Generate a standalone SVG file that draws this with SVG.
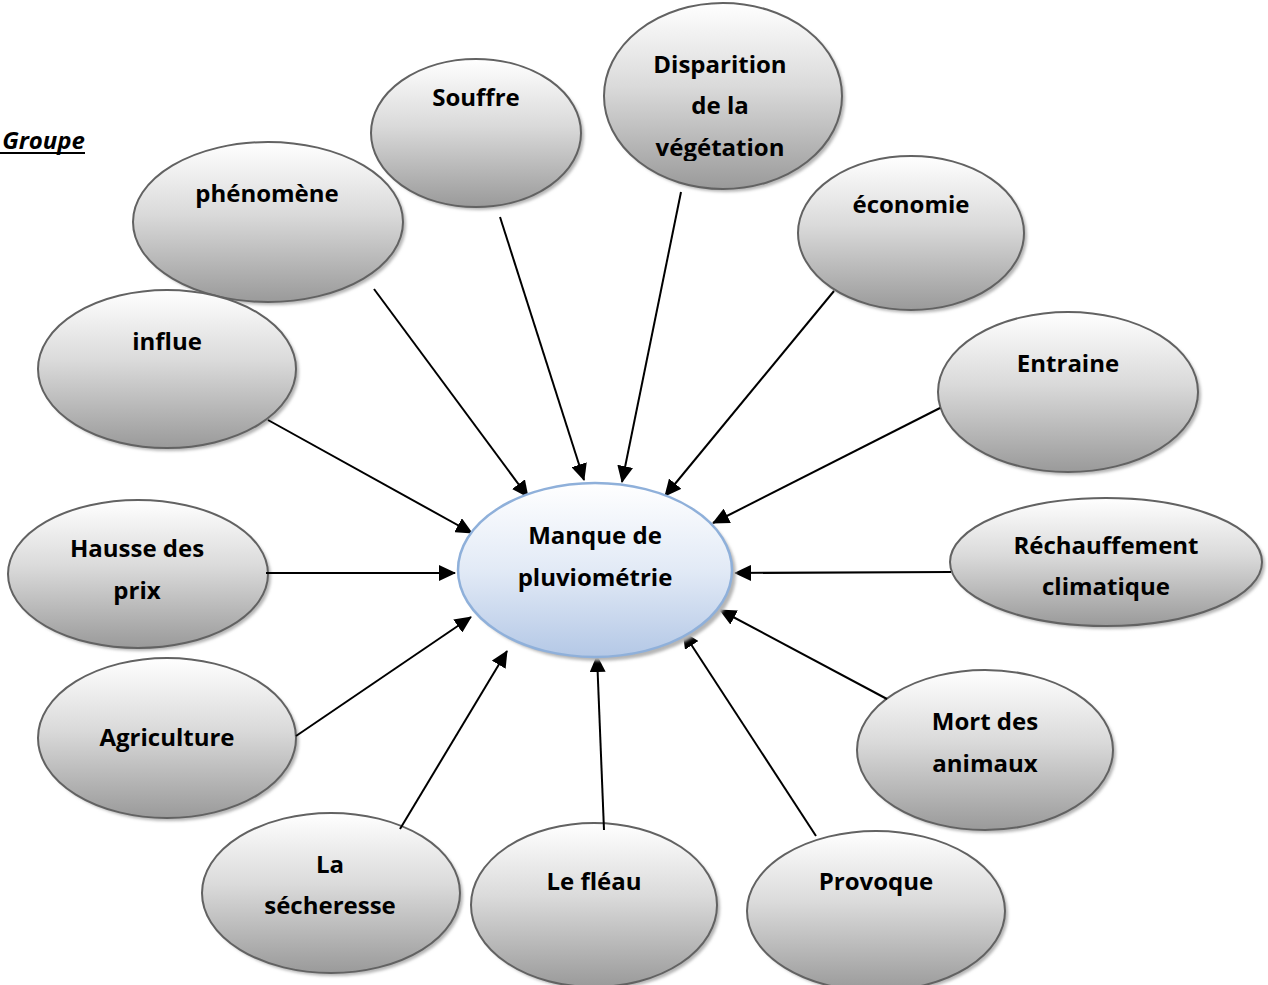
<svg xmlns="http://www.w3.org/2000/svg" width="1268" height="985" viewBox="0 0 1268 985">
<defs>
<linearGradient id="gray" x1="0" y1="0" x2="0" y2="1">
<stop offset="0" stop-color="#ffffff"/>
<stop offset="0.45" stop-color="#dadada"/>
<stop offset="1" stop-color="#9a9a9a"/>
</linearGradient>
<linearGradient id="blue" x1="0" y1="0" x2="0" y2="1">
<stop offset="0" stop-color="#ffffff"/>
<stop offset="0.5" stop-color="#e2eaf6"/>
<stop offset="1" stop-color="#b4c8e6"/>
</linearGradient>
<filter id="blur" x="-10%" y="-10%" width="120%" height="120%">
<feGaussianBlur stdDeviation="1.5"/>
</filter>
<marker id="arr" markerUnits="userSpaceOnUse" markerWidth="18" markerHeight="16" refX="16" refY="8" orient="auto">
<path d="M0,0 L17,8 L0,16 Z" fill="#000"/>
</marker>
<clipPath id="clipDisp"><rect x="600" y="0" width="250" height="161"/></clipPath>
</defs>
<style>
.sh{fill:#b5b5b5;filter:url(#blur);}
.nd{fill:url(#gray);stroke:#626262;stroke-width:2;}
.ctr{fill:url(#blue);stroke:#8fb0da;stroke-width:2.5;}
.t{font-family:"Open Sans","Liberation Sans",sans-serif;font-weight:bold;font-size:24px;fill:#000;text-anchor:middle;}
.c line{stroke:#000;stroke-width:2;marker-end:url(#arr);}
</style>
<rect width="1268" height="985" fill="#fff"/>

<text x="85" y="149" font-family="'Open Sans','Liberation Sans',sans-serif" font-weight="bold" font-style="italic" font-size="24" text-anchor="end" fill="#000">Groupe</text>
<rect x="0" y="152" width="85" height="2" fill="#000"/>

<g id="n-souffre"><ellipse class="sh" cx="479" cy="136" rx="105" ry="74"/><ellipse class="nd" cx="476" cy="133" rx="105" ry="74"/><text class="t" x="476" y="106">Souffre</text></g>
<g id="n-disparition"><ellipse class="sh" cx="726" cy="99" rx="119" ry="93"/><ellipse class="nd" cx="723" cy="96" rx="119" ry="93"/><g clip-path="url(#clipDisp)"><text class="t" x="720" y="73">Disparition</text><text class="t" x="720" y="114">de la</text><text class="t" x="720" y="156">végétation</text></g></g>
<g id="n-phenomene"><ellipse class="sh" cx="271" cy="225" rx="135" ry="80"/><ellipse class="nd" cx="268" cy="222" rx="135" ry="80"/><text class="t" x="267" y="202">phénomène</text></g>
<g id="n-economie"><ellipse class="sh" cx="914" cy="236" rx="113" ry="77"/><ellipse class="nd" cx="911" cy="233" rx="113" ry="77"/><text class="t" x="911" y="213">économie</text></g>
<g id="n-influe"><ellipse class="sh" cx="170" cy="372" rx="129" ry="79"/><ellipse class="nd" cx="167" cy="369" rx="129" ry="79"/><text class="t" x="167" y="350">influe</text></g>
<g id="n-entraine"><ellipse class="sh" cx="1071" cy="395" rx="130" ry="80"/><ellipse class="nd" cx="1068" cy="392" rx="130" ry="80"/><text class="t" x="1068" y="372">Entraine</text></g>
<g id="n-hausse"><ellipse class="sh" cx="141" cy="577" rx="130" ry="74"/><ellipse class="nd" cx="138" cy="574" rx="130" ry="74"/><text class="t" x="137" y="557">Hausse des</text><text class="t" x="137" y="599">prix</text></g>
<g id="n-rechauffement"><ellipse class="sh" cx="1109" cy="565" rx="156" ry="64"/><ellipse class="nd" cx="1106" cy="562" rx="156" ry="64"/><text class="t" x="1106" y="554">Réchauffement</text><text class="t" x="1106" y="595">climatique</text></g>
<g id="n-agriculture"><ellipse class="sh" cx="170" cy="741" rx="129" ry="80"/><ellipse class="nd" cx="167" cy="738" rx="129" ry="80"/><text class="t" x="167" y="746">Agriculture</text></g>
<g id="n-mort"><ellipse class="sh" cx="988" cy="753" rx="128" ry="80"/><ellipse class="nd" cx="985" cy="750" rx="128" ry="80"/><text class="t" x="985" y="730">Mort des</text><text class="t" x="985" y="772">animaux</text></g>
<g id="n-secheresse"><ellipse class="sh" cx="334" cy="896" rx="129" ry="80"/><ellipse class="nd" cx="331" cy="893" rx="129" ry="80"/><text class="t" x="330" y="873">La</text><text class="t" x="330" y="914">sécheresse</text></g>
<g id="n-fleau"><ellipse class="sh" cx="597" cy="908" rx="123" ry="82"/><ellipse class="nd" cx="594" cy="905" rx="123" ry="82"/><text class="t" x="594" y="890">Le fléau</text></g>
<g id="n-provoque"><ellipse class="sh" cx="879" cy="914" rx="129" ry="80"/><ellipse class="nd" cx="876" cy="911" rx="129" ry="80"/><text class="t" x="876" y="890">Provoque</text></g>

<g id="connectors" class="c">
<line x1="374" y1="289" x2="528" y2="497"/>
<line x1="500" y1="217" x2="584" y2="480"/>
<line x1="681" y1="192" x2="622" y2="482"/>
<line x1="834" y1="291" x2="665" y2="496"/>
<line x1="268" y1="420" x2="472" y2="533"/>
<line x1="940" y1="408" x2="713" y2="523"/>
<line x1="266" y1="573" x2="455" y2="573"/>
<line x1="951" y1="572" x2="735" y2="573"/>
<line x1="296" y1="736" x2="471" y2="617"/>
<line x1="887" y1="699" x2="720" y2="610"/>
<line x1="400" y1="829" x2="507" y2="651"/>
<line x1="604" y1="830" x2="597" y2="656"/>
<line x1="816" y1="836" x2="683" y2="632"/>
</g>

<g id="n-center"><ellipse class="sh" cx="599" cy="574" rx="137" ry="87"/><ellipse class="ctr" cx="595" cy="570" rx="137" ry="87"/><text class="t" x="595" y="544">Manque de</text><text class="t" x="595" y="586">pluviométrie</text></g>
</svg>
